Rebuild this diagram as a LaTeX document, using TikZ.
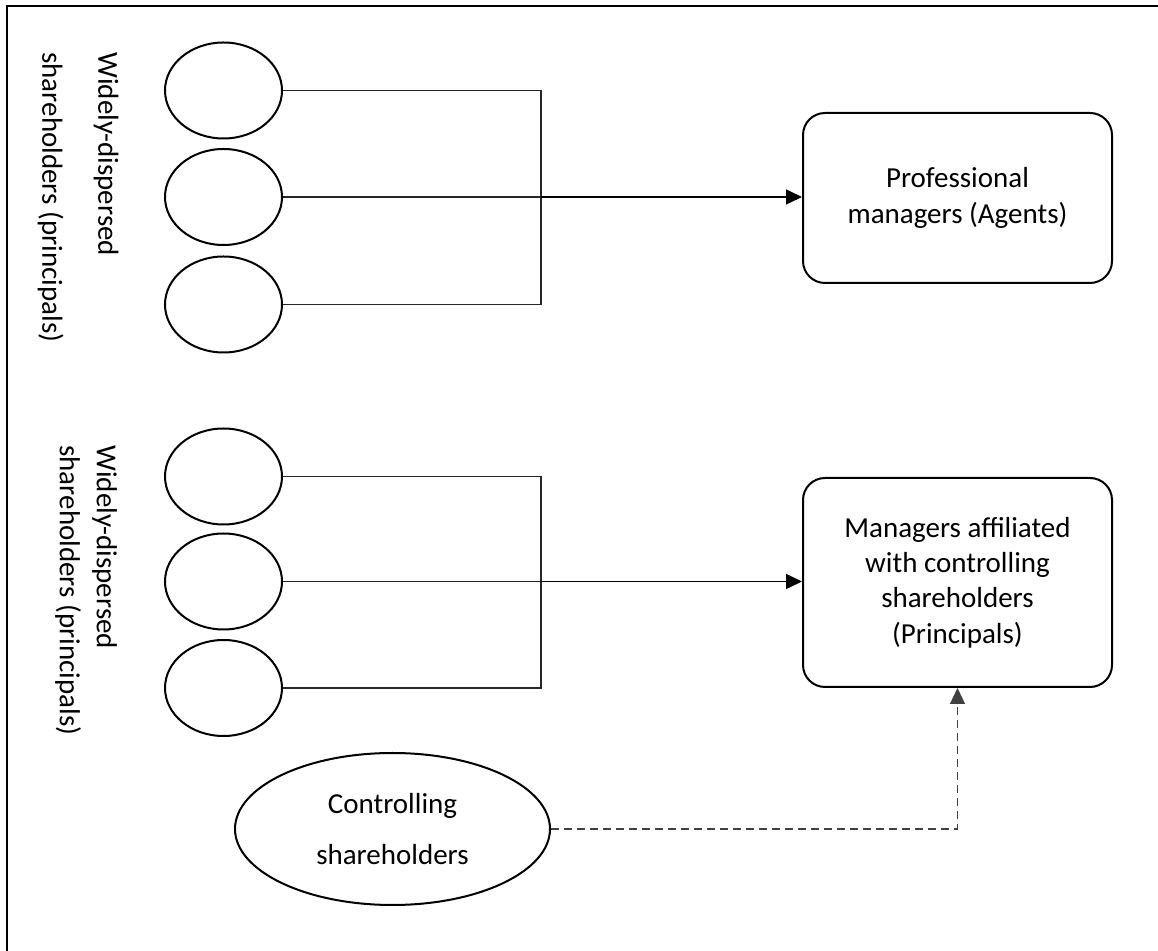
\documentclass[tikz,border=0pt]{standalone}
\usepackage{fontspec}
\setmainfont{Carlito}
\usetikzlibrary{arrows.meta,shapes.geometric}
\begin{document}
\begin{tikzpicture}[x=0.5pt,y=-0.5pt,
  font=\fontsize{14.5pt}{17.7pt}\selectfont,
  shape line/.style={draw=black,line width=1pt},
  holder/.style={shape line,ellipse,minimum width=58.5pt,minimum height=48pt,inner sep=0pt},
  mgrbox/.style={shape line,rectangle,rounded corners=11pt,minimum width=154.5pt,align=center,inner sep=0pt},
  conn/.style={draw=black!85,line width=0.55pt},
  arr/.style={draw=black,line width=0.75pt,-{Triangle[length=8pt,width=7.5pt]}},
  dashconn/.style={draw=black!75,line width=0.6pt,dash pattern=on 4pt off 2.5pt,-{Triangle[length=8pt,width=7.5pt]}},
  vlabel/.style={rotate=-90,anchor=west,align=left,inner sep=0pt}]
\useasboundingbox (0,0) rectangle (1158,951);
\clip (0,0) rectangle (1158,951);
\draw[line width=1pt] (7,6) rectangle (1200,1000);

% top group
\node[vlabel,font=\fontsize{14.5pt}{28pt}\selectfont] (lab1) at (78,52) {Widely-dispersed\\shareholders (principals)};
\node[holder] (e1) at (223.5,90.5) {};
\node[holder] (e2) at (223.5,197) {};
\node[holder] (e3) at (223.5,304.5) {};
\coordinate (j1) at (541,197);
\node[mgrbox,minimum height=85pt] (b1) at (957.5,198) {Professional\\managers (Agents)};
\draw[conn] (e1.east) -| (j1);
\draw[conn] (e3.east) -| (j1);
\draw[conn] (e2.east) -- (j1);
\draw[arr] (j1) -- (j1 -| b1.west);

% bottom group
\node[vlabel,font=\fontsize{14.5pt}{18.5pt}\selectfont] (lab2) at (86,445) {Widely-dispersed\\shareholders (principals)};
\node[holder] (e4) at (223.5,476.5) {};
\node[holder] (e5) at (223.5,581.5) {};
\node[holder] (e6) at (223.5,688) {};
\coordinate (j2) at (541,581.5);
\node[mgrbox,minimum height=104.5pt] (b2) at (957.5,582.5) {Managers affiliated\\with controlling\\shareholders\\(Principals)};
\draw[conn] (e4.east) -| (j2);
\draw[conn] (e6.east) -| (j2);
\draw[conn] (e5.east) -- (j2);
\draw[arr] (j2) -- (j2 -| b2.west);

% controlling shareholders
\node[shape line,ellipse,minimum width=157.5pt,minimum height=76pt,inner sep=0pt,align=center,
  font=\fontsize{14.5pt}{25.5pt}\selectfont] (c) at (392.5,829) {Controlling\\shareholders};
\draw[dashconn] (c.east) -| (b2.south);
\end{tikzpicture}
\end{document}
